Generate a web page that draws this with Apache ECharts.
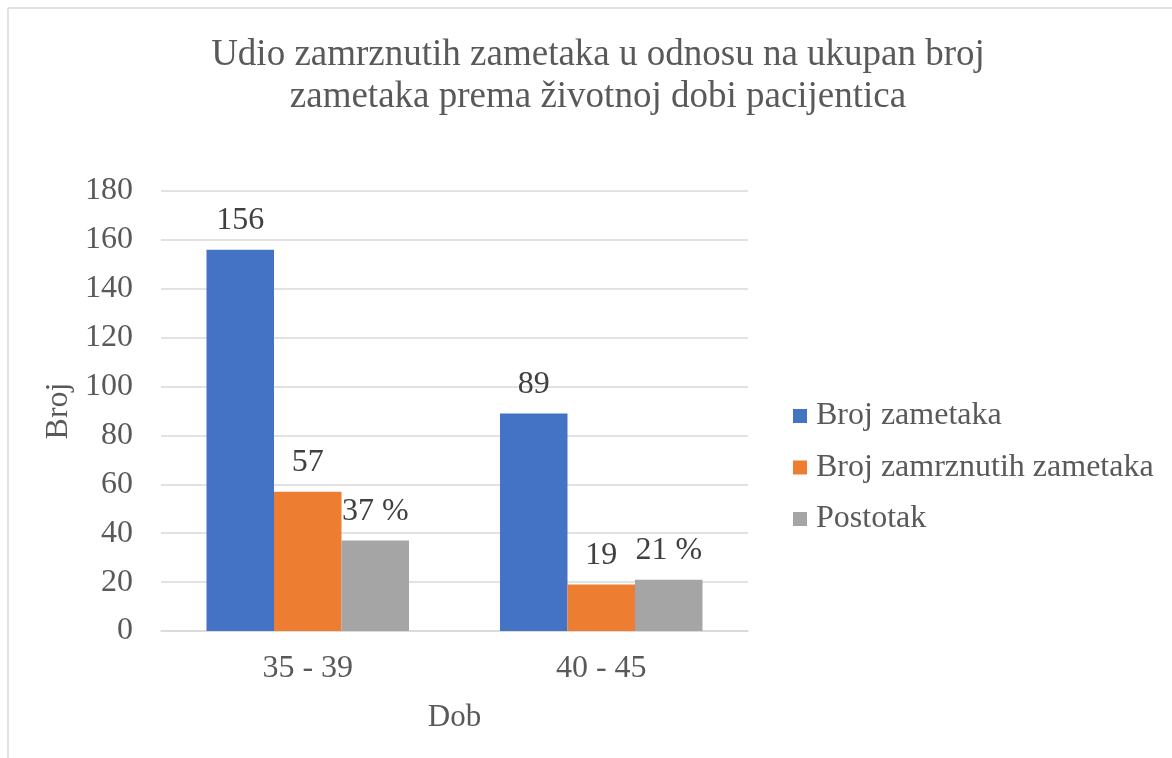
<!DOCTYPE html>
<html lang="hr">
<head>
    <meta charset="UTF-8">
    <title>Udio zamrznutih zametaka</title>
    <style>
        html, body { margin: 0; padding: 0; background: #fff; }
    </style>
</head>
<body>
<script src="https://cdn.jsdelivr.net/npm/echarts@6/dist/echarts.min.js"></script>
<div id="main" style="width: 1172px;height:758px;"></div>
<script type="text/javascript">
    // podaci s grafa
    var categories = ['35 - 39', '40 - 45'];
    var brojZametaka = [156, 89];
    var brojZamrznutih = [57, 19];
    var postotak = [37, 21];
    var seriesNames = ['Broj zametaka', 'Broj zamrznutih zametaka', 'Postotak'];
    var yTicks = [0, 20, 40, 60, 80, 100, 120, 140, 160, 180];

    var font = '"Liberation Serif", "Times New Roman", serif';
    var txt = '#595959';

    var myChart = echarts.init(document.getElementById('main'));

    var labelStyle = {
        show: true,
        position: 'top',
        distance: 13,
        color: '#404040',
        fontFamily: font,
        fontSize: 32
    };

    var option = {
        color: ['#4472c4', '#ed7d31', '#a5a5a5'],
        animation: false,
        title: {
            text: 'Udio zamrznutih zametaka u odnosu na ukupan broj\nzametaka prema životnoj dobi pacijentica',
            left: 593,
            textAlign: 'center',
            top: 29,
            textStyle: {
                fontFamily: font,
                fontSize: 37,
                fontWeight: 'normal',
                color: txt,
                lineHeight: 42
            }
        },
        legend: {
            orient: 'vertical',
            left: 788,
            top: 395,
            itemWidth: 14,
            itemHeight: 14,
            itemGap: 19.5,
            icon: 'rect',
            data: seriesNames,
            textStyle: { fontFamily: font, fontSize: 32, lineHeight: 32, color: txt, padding: [0, 0, 0, 4] }
        },
        grid: { left: 161, right: 424, top: 191, bottom: 127 },
        xAxis: {
            type: 'category',
            data: categories,
            name: 'Dob',
            nameLocation: 'middle',
            nameGap: 71,
            nameTextStyle: { fontFamily: font, fontSize: 31, color: txt },
            axisLine: { lineStyle: { color: '#d9d9d9', width: 1.5 } },
            axisTick: { show: false },
            axisLabel: { fontFamily: font, fontSize: 32, color: txt, margin: 22 }
        },
        yAxis: {
            type: 'value',
            min: yTicks[0],
            max: yTicks[yTicks.length - 1],
            interval: 20,
            name: 'Broj',
            nameLocation: 'middle',
            nameGap: 80,
            nameTextStyle: { fontFamily: font, fontSize: 32, color: txt },
            axisLine: { show: false },
            axisTick: { show: false },
            axisLabel: { fontFamily: font, fontSize: 32, color: txt, margin: 28 },
            splitLine: { lineStyle: { color: '#d9d9d9', width: 1.5 } }
        },
        graphic: [
            { type: 'line', shape: { x1: 8, y1: 8, x2: 1172, y2: 8 }, style: { stroke: '#d9d9d9', lineWidth: 1.5 } },
            { type: 'line', shape: { x1: 8, y1: 8, x2: 8, y2: 758 }, style: { stroke: '#d9d9d9', lineWidth: 1.5 } }
        ],
        series: [
            {
                name: seriesNames[0],
                type: 'bar',
                data: brojZametaka,
                barGap: '0%',
                barCategoryGap: '31%',
                label: labelStyle
            },
            {
                name: seriesNames[1],
                type: 'bar',
                data: brojZamrznutih,
                label: labelStyle
            },
            {
                name: seriesNames[2],
                type: 'bar',
                data: postotak,
                label: Object.assign({}, labelStyle, {
                    formatter: function (p) { return p.value + ' %'; }
                })
            }
        ]
    };

    myChart.setOption(option);
</script>
</body>
</html>
